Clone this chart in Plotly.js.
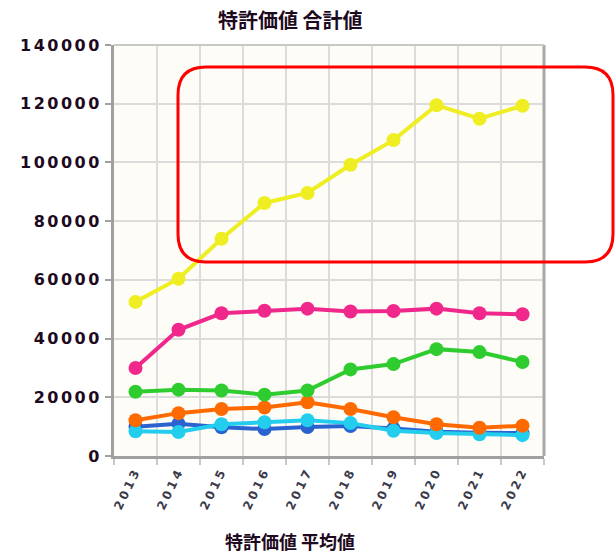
<!DOCTYPE html>
<html>
<head>
<meta charset="utf-8">
<script src="https://cdn.plot.ly/plotly-3.0.1.min.js"></script>
<style>
html,body{margin:0;padding:0;background:#fff;}
#chart{width:616px;height:556px;}
#chart .xtick text{letter-spacing:3px;}
#chart .ytick text{letter-spacing:2.5px;}
</style>
</head>
<body>
<div id="chart"></div>
<script>
var years = ["2013","2014","2015","2016","2017","2018","2019","2020","2021","2022"];
var yellowVals = [52500, 60400, 74000, 86200, 89600, 99200, 107600, 119500, 114900, 119300];
var pinkVals   = [30000, 43000, 48600, 49500, 50200, 49200, 49400, 50200, 48600, 48300];
var greenVals  = [21900, 22600, 22300, 20900, 22300, 29500, 31300, 36400, 35400, 32000];
var orangeVals = [12200, 14600, 16000, 16500, 18300, 16000, 13200, 10800, 9600, 10300];
var blueVals   = [10000, 11000, 9800, 9200, 9900, 10200, 9400, 8300, 7900, 7800];
var cyanVals   = [8400, 8200, 10800, 11500, 12200, 11200, 8600, 7800, 7400, 7100];
var yTicks = [0, 20000, 40000, 60000, 80000, 100000, 120000, 140000];

var series = [
  {v: blueVals, c: "#2a62d0"},
  {v: cyanVals, c: "#22cdee"},
  {v: orangeVals, c: "#ff6a00"},
  {v: greenVals, c: "#2ecc2e"},
  {v: pinkVals, c: "#f0288c"},
  {v: yellowVals, c: "#eeee22"}
];
var traces = series.map(function(s){
  return {x: years, y: s.v, type: "scatter", mode: "lines+markers",
    line: {color: s.c, width: 4}, marker: {color: s.c, size: 14}, showlegend: false, hoverinfo: "none"};
});

var L = 114, R = 544, T = 45, B = 456;
function px(x){ return (x - L) / (R - L); }
function py(y){ return (B - y) / (B - T); }
var x0 = 178, x1 = 613, y0 = 67, y1 = 262, r = 28;
var path = "M " + px(x0 + r) + "," + py(y0) +
  " L " + px(x1 - r) + "," + py(y0) +
  " Q " + px(x1) + "," + py(y0) + " " + px(x1) + "," + py(y0 + r) +
  " L " + px(x1) + "," + py(y1 - r) +
  " Q " + px(x1) + "," + py(y1) + " " + px(x1 - r) + "," + py(y1) +
  " L " + px(x0 + r) + "," + py(y1) +
  " Q " + px(x0) + "," + py(y1) + " " + px(x0) + "," + py(y1 - r) +
  " L " + px(x0) + "," + py(y0 + r) +
  " Q " + px(x0) + "," + py(y0) + " " + px(x0 + r) + "," + py(y0) + " Z";

var layout = {
  width: 616, height: 556,
  margin: {l: L, r: 616 - R, t: T, b: 556 - B},
  paper_bgcolor: "#ffffff",
  plot_bgcolor: "#fdfcf7",
  font: {family: "Liberation Sans, Arial, sans-serif"},
  xaxis: {
    type: "category", range: [-0.5, 9.5], tickson: "boundaries",
    showgrid: true, gridcolor: "#dcdcdc", gridwidth: 2,
    showline: true, linecolor: "#a0a0a0", linewidth: 3, mirror: false,
    ticks: "outside", ticklen: 6, tickcolor: "#c8c8c8", tickwidth: 2,
    tickangle: -64, tickfont: {size: 12, color: "#3a3a4a", family: "DejaVu Sans, sans-serif", weight: "bold"},
    zeroline: false, fixedrange: true
  },
  yaxis: {
    range: [0, 140000], tickvals: yTicks, ticktext: yTicks.map(String),
    showgrid: true, gridcolor: "#dcdcdc", gridwidth: 2,
    showline: true, linecolor: "#a0a0a0", linewidth: 3,
    ticks: "outside", ticklen: 6, tickcolor: "#a0a0a0", tickwidth: 2,
    tickfont: {size: 16, color: "#1e0a1e", family: "DejaVu Sans, sans-serif", weight: "bold"},
    zeroline: false, fixedrange: true
  },
  shapes: [
    {type: "line", xref: "paper", yref: "paper", x0: 1, x1: 1, y0: 0, y1: 1,
     line: {color: "#a8a8a8", width: 3}},
    {type: "line", xref: "paper", yref: "paper", x0: 0, x1: 1, y0: 1, y1: 1,
     line: {color: "#c8c8c8", width: 2}},
    {type: "path", xref: "paper", yref: "paper", path: path,
     line: {color: "#ff0000", width: 3}, fillcolor: "rgba(0,0,0,0)"}
  ],
  annotations: [
    {text: "<b>特許価値 合計値</b>", xref: "paper", yref: "paper", x: px(290), y: py(19),
     showarrow: false, xanchor: "center", yanchor: "middle",
     font: {size: 20, color: "#1e0a1e", family: "Noto Sans CJK JP, sans-serif", weight: 900}},
    {text: "<b>特許価値 平均値</b>", xref: "paper", yref: "paper", x: px(290), y: py(541),
     showarrow: false, xanchor: "center", yanchor: "middle",
     font: {size: 18, color: "#1e0a1e", family: "Noto Sans CJK JP, sans-serif", weight: 900}}
  ]
};
Plotly.newPlot("chart", traces, layout, {displayModeBar: false, staticPlot: true});
</script>
</body>
</html>
